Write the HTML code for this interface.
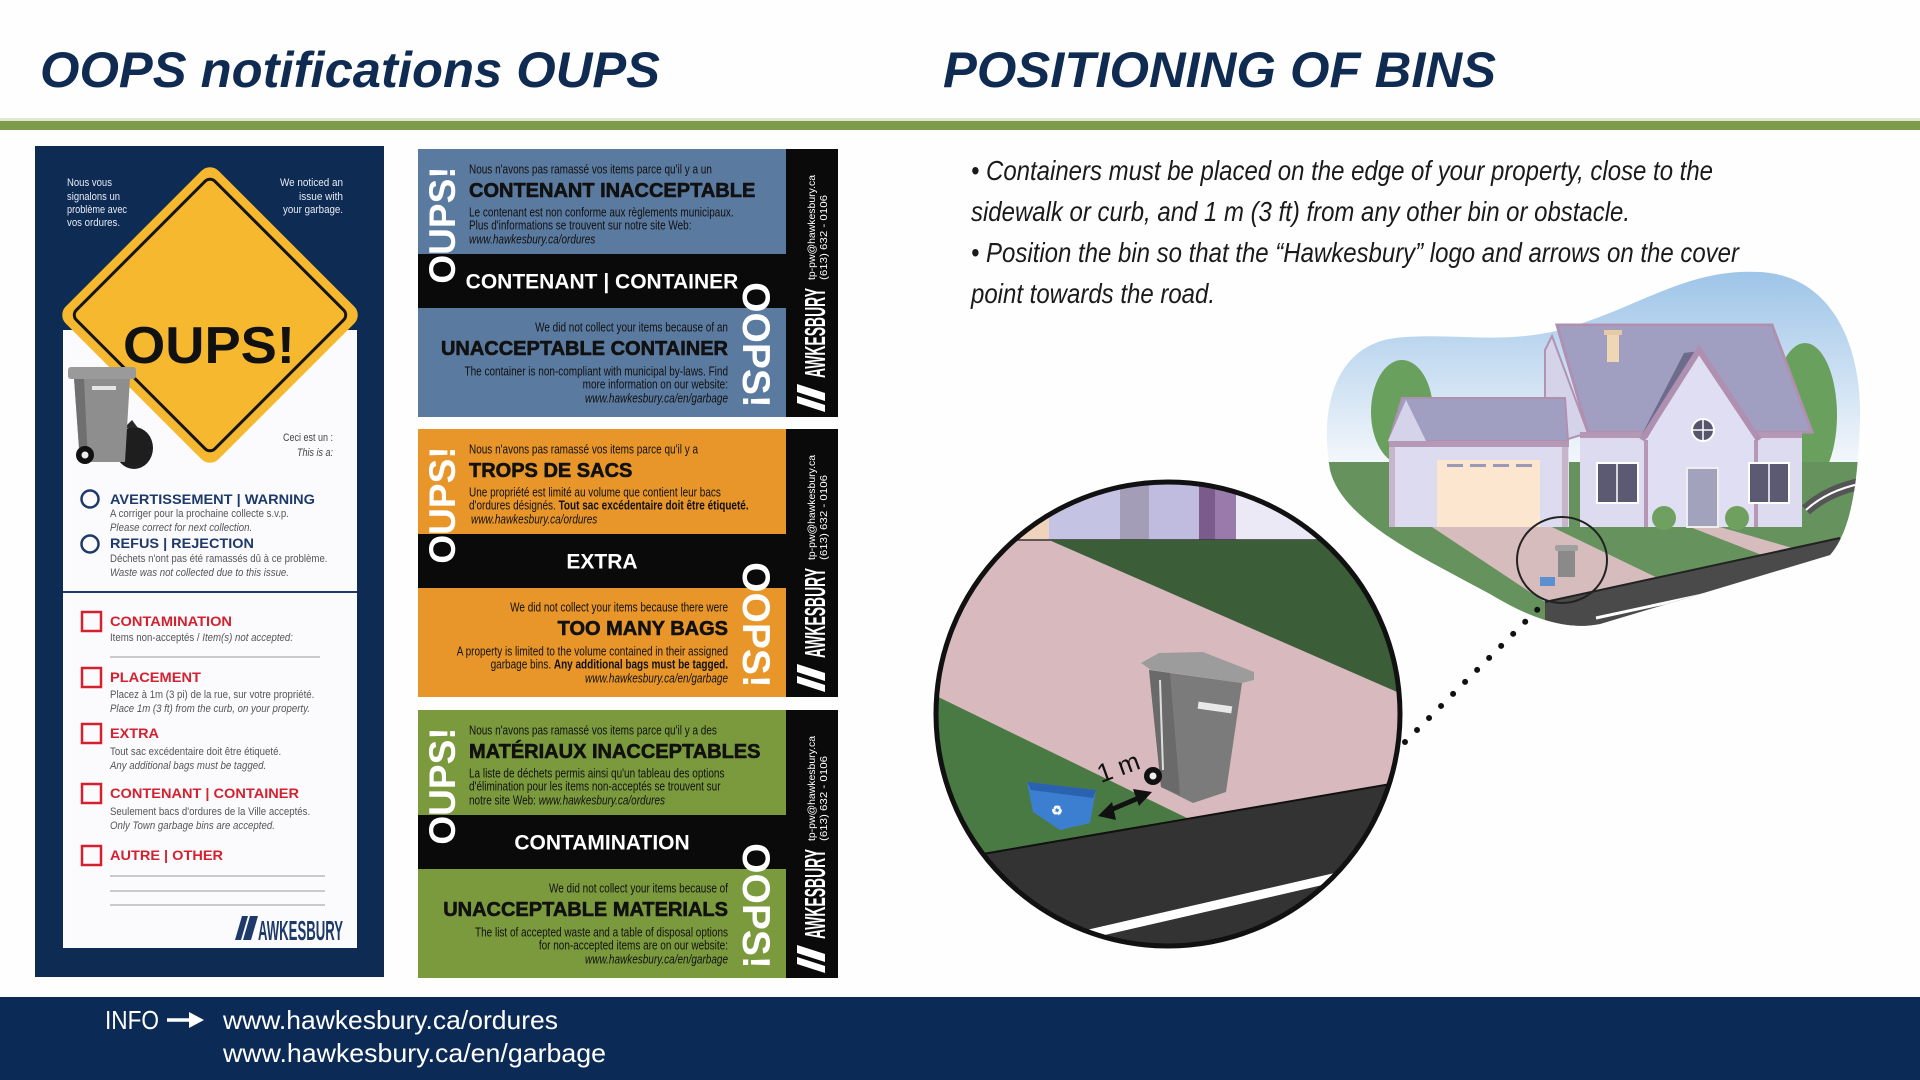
<!DOCTYPE html>
<html><head><meta charset="utf-8"><title>OOPS notifications / Positioning of bins</title>
<style>
html,body{margin:0;padding:0}
body{width:1920px;height:1080px;overflow:hidden;background:#fefefe;position:relative}
svg{position:absolute;left:0;top:0;font-family:"Liberation Sans",Arial,sans-serif}
</style></head><body>
<svg width="1920" height="1080" viewBox="0 0 1920 1080" xmlns="http://www.w3.org/2000/svg">
<defs>
<linearGradient id="sky" gradientUnits="userSpaceOnUse" x1="0" y1="270" x2="0" y2="470">
<stop offset="0" stop-color="#9dc4e8"/><stop offset="1" stop-color="#f6f9fc"/></linearGradient>
<clipPath id="bigc"><circle cx="1168" cy="714" r="232"/></clipPath>
<clipPath id="blobc"><path d="M1330,470 C1318,400 1340,345 1395,338 C1450,332 1500,345 1560,330 C1640,308 1685,268 1760,272 C1835,276 1862,350 1860,420 C1858,480 1852,530 1830,555 L1600,624 C1560,632 1520,612 1490,594 C1420,556 1342,520 1330,470 Z"/></clipPath>
</defs>

<!-- HEADER -->
<text x="40" y="87" font-size="50" font-weight="bold" font-style="italic" fill="#0f2b52" textLength="620" lengthAdjust="spacingAndGlyphs">OOPS notifications OUPS</text>
<text x="943" y="87" font-size="50" font-weight="bold" font-style="italic" fill="#0f2b52" textLength="553" lengthAdjust="spacingAndGlyphs">POSITIONING OF BINS</text>
<rect x="0" y="118" width="1920" height="3" fill="#dfe8cf"/>
<rect x="0" y="121" width="1920" height="9" fill="#7d9b4b"/>

<!-- LEFT CARD -->
<rect x="35" y="146" width="349" height="831" fill="#0d2b53"/>
<rect x="63" y="330" width="294" height="618" fill="#fbfbfd"/>
<g transform="translate(210,315) rotate(45)">
<rect x="-108" y="-108" width="216" height="216" rx="12" fill="#f5b82f"/>
<rect x="-98" y="-98" width="196" height="196" rx="7" fill="none" stroke="#151515" stroke-width="3"/>
</g>
<text x="209" y="363" text-anchor="middle" font-size="52" font-weight="bold" fill="#111" textLength="172" lengthAdjust="spacingAndGlyphs">OUPS!</text>
<g font-size="11" fill="#e8ecf3">
<text x="67" y="186" textLength="45" lengthAdjust="spacingAndGlyphs">Nous vous</text>
<text x="67" y="200" textLength="53" lengthAdjust="spacingAndGlyphs">signalons un</text>
<text x="67" y="213" textLength="60" lengthAdjust="spacingAndGlyphs">problème avec</text>
<text x="67" y="226" textLength="53" lengthAdjust="spacingAndGlyphs">vos ordures.</text>
<text x="343" y="186" text-anchor="end" textLength="63" lengthAdjust="spacingAndGlyphs">We noticed an</text>
<text x="343" y="200" text-anchor="end" textLength="44" lengthAdjust="spacingAndGlyphs">issue with</text>
<text x="343" y="213" text-anchor="end" textLength="60" lengthAdjust="spacingAndGlyphs">your garbage.</text>
</g>
<g font-size="11" fill="#444" text-anchor="end">
<text x="333" y="441" textLength="50" lengthAdjust="spacingAndGlyphs">Ceci est un :</text>
<text x="333" y="456" font-style="italic" textLength="36" lengthAdjust="spacingAndGlyphs">This is a:</text>
</g>
<!-- bin image -->
<g>
<ellipse cx="134" cy="448" rx="19" ry="21" fill="#1e1e1e"/>
<path d="M124,428 l8,-8 l6,8 z" fill="#2a2a2a"/>
<polygon points="74,378 130,378 125,462 80,462" fill="#8e8e8e"/>
<polygon points="74,378 84,378 88,462 80,462" fill="#6f6f6f"/>
<rect x="68" y="367" width="68" height="12" rx="3" fill="#9a9a9a"/>
<rect x="92" y="386" width="24" height="4" fill="#e6e6e6"/>
<circle cx="85" cy="455" r="9" fill="#111"/>
<circle cx="85" cy="455" r="3.5" fill="#eee"/>
</g>
<!-- options -->
<circle cx="90" cy="499" r="8.5" fill="none" stroke="#1d3a6a" stroke-width="2.5"/>
<circle cx="90" cy="544" r="8.5" fill="none" stroke="#1d3a6a" stroke-width="2.5"/>
<g font-size="14" font-weight="bold" fill="#1d3a6a">
<text x="110" y="504" textLength="205" lengthAdjust="spacingAndGlyphs">AVERTISSEMENT | WARNING</text>
<text x="110" y="548" textLength="144" lengthAdjust="spacingAndGlyphs">REFUS | REJECTION</text>
</g>
<g font-size="11.5" fill="#555">
<text transform="translate(110,517) scale(.84,1)">A corriger pour la prochaine collecte s.v.p.</text>
<text transform="translate(110,531) scale(.84,1)" font-style="italic">Please correct for next collection.</text>
<text transform="translate(110,562) scale(.84,1)">Déchets n'ont pas été ramassés dû à ce problème.</text>
<text transform="translate(110,576) scale(.84,1)" font-style="italic">Waste was not collected due to this issue.</text>
<text transform="translate(110,641) scale(.84,1)">Items non-acceptés / <tspan font-style="italic">Item(s) not accepted:</tspan></text>
<text transform="translate(110,698) scale(.84,1)">Placez à 1m (3 pi) de la rue, sur votre propriété.</text>
<text transform="translate(110,712) scale(.84,1)" font-style="italic">Place 1m (3 ft) from the curb, on your property.</text>
<text transform="translate(110,755) scale(.84,1)">Tout sac excédentaire doit être étiqueté.</text>
<text transform="translate(110,769) scale(.84,1)" font-style="italic">Any additional bags must be tagged.</text>
<text transform="translate(110,815) scale(.84,1)">Seulement bacs d'ordures de la Ville acceptés.</text>
<text transform="translate(110,829) scale(.84,1)" font-style="italic">Only Town garbage bins are accepted.</text>
</g>
<line x1="63" y1="592" x2="357" y2="592" stroke="#1d3a6a" stroke-width="2"/>
<g fill="none" stroke="#d4212f" stroke-width="2.5">
<rect x="82" y="612" width="19" height="19"/>
<rect x="82" y="668" width="19" height="19"/>
<rect x="82" y="724" width="19" height="19"/>
<rect x="82" y="784" width="19" height="19"/>
<rect x="82" y="846" width="19" height="19"/>
</g>
<g font-size="14" font-weight="bold" fill="#d4212f">
<text x="110" y="626" textLength="122" lengthAdjust="spacingAndGlyphs">CONTAMINATION</text>
<text x="110" y="682" textLength="91" lengthAdjust="spacingAndGlyphs">PLACEMENT</text>
<text x="110" y="738" textLength="49" lengthAdjust="spacingAndGlyphs">EXTRA</text>
<text x="110" y="798" textLength="189" lengthAdjust="spacingAndGlyphs">CONTENANT | CONTAINER</text>
<text x="110" y="860" textLength="113" lengthAdjust="spacingAndGlyphs">AUTRE | OTHER</text>
</g>
<g stroke="#9a9a9a" stroke-width="1">
<line x1="110" y1="657" x2="320" y2="657"/>
<line x1="110" y1="876" x2="325" y2="876"/>
<line x1="110" y1="891" x2="325" y2="891"/>
<line x1="110" y1="905" x2="325" y2="905"/>
</g>
<g fill="#1d3a6a">
<polygon points="235,940 241,940 248,916 242,916"/>
<polygon points="243,940 251,940 258,916 250,916"/>
<text x="258" y="940" font-size="28" font-weight="bold" textLength="85" lengthAdjust="spacingAndGlyphs">AWKESBURY</text>
</g>

<!-- CARD 1 -->
<g transform="translate(0,149)">
<rect x="418" y="0" width="420" height="268" fill="#0a0a0a"/>
<rect x="418" y="0" width="368" height="105" fill="#5b7a9f"/>
<rect x="418" y="159" width="368" height="109" fill="#5b7a9f"/>
<text transform="translate(455,76) rotate(-90)" text-anchor="middle" font-size="37" font-weight="bold" fill="#fff">OUPS!</text>
<text transform="translate(743,196) rotate(90)" text-anchor="middle" font-size="39" font-weight="bold" fill="#fff">OOPS!</text>
<g fill="#111">
<text transform="translate(469,24.5) scale(.8,1)" font-size="12.5">Nous n'avons pas ramassé vos items parce qu'il y a un</text>
<text x="469" y="48" font-size="20" font-weight="bold" stroke="#111" stroke-width=".6">CONTENANT INACCEPTABLE</text>
<text transform="translate(469,67.5) scale(.8,1)" font-size="12.5">Le contenant est non conforme aux règlements municipaux.</text>
<text transform="translate(469,80.5) scale(.8,1)" font-size="12.5">Plus d'informations se trouvent sur notre site Web:</text>
<text transform="translate(469,94.5) scale(.8,1)" font-size="12.5" font-style="italic">www.hawkesbury.ca/ordures</text>
</g>
<text x="602" y="139.5" text-anchor="middle" font-size="21" font-weight="bold" fill="#fff">CONTENANT | CONTAINER</text>
<g fill="#111" text-anchor="end">
<text transform="translate(728,182.5) scale(.8,1)" font-size="12.5">We did not collect your items because of an</text>
<text x="728" y="206" font-size="20" font-weight="bold" stroke="#111" stroke-width=".6">UNACCEPTABLE CONTAINER</text>
<text transform="translate(728,226.5) scale(.8,1)" font-size="12.5">The container is non-compliant with municipal by-laws. Find</text>
<text transform="translate(728,239.5) scale(.8,1)" font-size="12.5">more information on our website:</text>
<text transform="translate(728,253.5) scale(.8,1)" font-size="12.5" font-style="italic">www.hawkesbury.ca/en/garbage</text>
</g>
<g transform="translate(825,263) rotate(-90)" fill="#fff">
<polygon points="0,0 7,0 16,-28 9,-28"/>
<polygon points="11,0 19,0 28,-28 20,-28"/>
<text x="34" y="0" font-size="29" font-weight="bold" textLength="90" lengthAdjust="spacingAndGlyphs">AWKESBURY</text>
</g>
<text transform="translate(815,131) rotate(-90)" font-size="10.5" fill="#fff" textLength="105" lengthAdjust="spacingAndGlyphs">tp-pw@hawkesbury.ca</text>
<text transform="translate(827,131) rotate(-90)" font-size="10.5" fill="#fff" textLength="85" lengthAdjust="spacingAndGlyphs">(613) 632 - 0106</text>
</g>

<!-- CARD 2 -->
<g transform="translate(0,429)">
<rect x="418" y="0" width="420" height="268" fill="#0a0a0a"/>
<rect x="418" y="0" width="368" height="105" fill="#e8962a"/>
<rect x="418" y="159" width="368" height="109" fill="#e8962a"/>
<text transform="translate(455,76) rotate(-90)" text-anchor="middle" font-size="37" font-weight="bold" fill="#fff">OUPS!</text>
<text transform="translate(743,196) rotate(90)" text-anchor="middle" font-size="39" font-weight="bold" fill="#fff">OOPS!</text>
<g fill="#111">
<text transform="translate(469,24.5) scale(.8,1)" font-size="12.5">Nous n'avons pas ramassé vos items parce qu'il y a</text>
<text x="469" y="48" font-size="20" font-weight="bold" stroke="#111" stroke-width=".6">TROPS DE SACS</text>
<text transform="translate(469,67.5) scale(.8,1)" font-size="12.5">Une propriété est limité au volume que contient leur bacs</text>
<text transform="translate(469,80.5) scale(.8,1)" font-size="12.5">d'ordures désignés. <tspan font-weight="bold">Tout sac excédentaire doit être étiqueté.</tspan></text>
<text transform="translate(471,94.5) scale(.8,1)" font-size="12.5" font-style="italic">www.hawkesbury.ca/ordures</text>
</g>
<text x="602" y="139.5" text-anchor="middle" font-size="21" font-weight="bold" fill="#fff">EXTRA</text>
<g fill="#111" text-anchor="end">
<text transform="translate(728,182.5) scale(.8,1)" font-size="12.5">We did not collect your items because there were</text>
<text x="728" y="206" font-size="20" font-weight="bold" stroke="#111" stroke-width=".6">TOO MANY BAGS</text>
<text transform="translate(728,226.5) scale(.8,1)" font-size="12.5">A property is limited to the volume contained in their assigned</text>
<text transform="translate(728,239.5) scale(.8,1)" font-size="12.5">garbage bins. <tspan font-weight="bold">Any additional bags must be tagged.</tspan></text>
<text transform="translate(728,253.5) scale(.8,1)" font-size="12.5" font-style="italic">www.hawkesbury.ca/en/garbage</text>
</g>
<g transform="translate(825,263) rotate(-90)" fill="#fff">
<polygon points="0,0 7,0 16,-28 9,-28"/>
<polygon points="11,0 19,0 28,-28 20,-28"/>
<text x="34" y="0" font-size="29" font-weight="bold" textLength="90" lengthAdjust="spacingAndGlyphs">AWKESBURY</text>
</g>
<text transform="translate(815,131) rotate(-90)" font-size="10.5" fill="#fff" textLength="105" lengthAdjust="spacingAndGlyphs">tp-pw@hawkesbury.ca</text>
<text transform="translate(827,131) rotate(-90)" font-size="10.5" fill="#fff" textLength="85" lengthAdjust="spacingAndGlyphs">(613) 632 - 0106</text>
</g>

<!-- CARD 3 -->
<g transform="translate(0,710)">
<rect x="418" y="0" width="420" height="268" fill="#0a0a0a"/>
<rect x="418" y="0" width="368" height="105" fill="#7b9a3d"/>
<rect x="418" y="159" width="368" height="109" fill="#7b9a3d"/>
<text transform="translate(455,76) rotate(-90)" text-anchor="middle" font-size="37" font-weight="bold" fill="#fff">OUPS!</text>
<text transform="translate(743,196) rotate(90)" text-anchor="middle" font-size="39" font-weight="bold" fill="#fff">OOPS!</text>
<g fill="#111">
<text transform="translate(469,24.5) scale(.8,1)" font-size="12.5">Nous n'avons pas ramassé vos items parce qu'il y a des</text>
<text x="469" y="48" font-size="20" font-weight="bold" stroke="#111" stroke-width=".6">MATÉRIAUX INACCEPTABLES</text>
<text transform="translate(469,67.5) scale(.8,1)" font-size="12.5">La liste de déchets permis ainsi qu'un tableau des options</text>
<text transform="translate(469,80.5) scale(.8,1)" font-size="12.5">d'élimination pour les items non-acceptés se trouvent sur</text>
<text transform="translate(469,94.5) scale(.8,1)" font-size="12.5">notre site Web:  <tspan font-style="italic">www.hawkesbury.ca/ordures</tspan></text>
</g>
<text x="602" y="139.5" text-anchor="middle" font-size="21" font-weight="bold" fill="#fff">CONTAMINATION</text>
<g fill="#111" text-anchor="end">
<text transform="translate(728,182.5) scale(.8,1)" font-size="12.5">We did not collect your items because of</text>
<text x="728" y="206" font-size="20" font-weight="bold" stroke="#111" stroke-width=".6">UNACCEPTABLE MATERIALS</text>
<text transform="translate(728,226.5) scale(.8,1)" font-size="12.5">The list of accepted waste and a table of disposal options</text>
<text transform="translate(728,239.5) scale(.8,1)" font-size="12.5">for non-accepted items are on our website:</text>
<text transform="translate(728,253.5) scale(.8,1)" font-size="12.5" font-style="italic">www.hawkesbury.ca/en/garbage</text>
</g>
<g transform="translate(825,263) rotate(-90)" fill="#fff">
<polygon points="0,0 7,0 16,-28 9,-28"/>
<polygon points="11,0 19,0 28,-28 20,-28"/>
<text x="34" y="0" font-size="29" font-weight="bold" textLength="90" lengthAdjust="spacingAndGlyphs">AWKESBURY</text>
</g>
<text transform="translate(815,131) rotate(-90)" font-size="10.5" fill="#fff" textLength="105" lengthAdjust="spacingAndGlyphs">tp-pw@hawkesbury.ca</text>
<text transform="translate(827,131) rotate(-90)" font-size="10.5" fill="#fff" textLength="85" lengthAdjust="spacingAndGlyphs">(613) 632 - 0106</text>
</g>

<!-- RIGHT TEXT -->
<g font-size="28" font-style="italic" fill="#1a1a1a">
<text x="971" y="180" textLength="742" lengthAdjust="spacingAndGlyphs">• Containers must be placed on the edge of your property, close to the</text>
<text x="971" y="221" textLength="659" lengthAdjust="spacingAndGlyphs">sidewalk or curb, and 1 m (3 ft) from any other bin or obstacle.</text>
<text x="971" y="262" textLength="768" lengthAdjust="spacingAndGlyphs">• Position the bin so that the “Hawkesbury” logo and arrows on the cover</text>
<text x="971" y="303" textLength="244" lengthAdjust="spacingAndGlyphs">point towards the road.</text>
</g>

<!-- HOUSE SCENE -->
<g clip-path="url(#blobc)">
<rect x="1300" y="260" width="580" height="380" fill="url(#sky)"/>
<ellipse cx="1402" cy="412" rx="31" ry="52" fill="#6aa05e"/>
<ellipse cx="1805" cy="415" rx="32" ry="72" fill="#6aa05e"/>
<rect x="1300" y="462" width="580" height="180" fill="#65925d"/>
<path d="M1806,510 Q1830,488 1870,482" fill="none" stroke="#555" stroke-width="12"/>
<path d="M1806,510 Q1830,488 1870,482" fill="none" stroke="#fff" stroke-width="2"/>
<polygon points="1432,527 1552,527 1666,582 1548,604" fill="#d7bcbd"/>
<polygon points="1690,527 1720,527 1806,552 1772,559" fill="#d7bcbd"/>
<polygon points="1545,602 1840,538 1880,560 1880,660 1545,660" fill="#4a4a4a"/>
<line x1="1545" y1="602" x2="1840" y2="538" stroke="#222" stroke-width="2"/>
<line x1="1596" y1="618" x2="1850" y2="563" stroke="#fff" stroke-width="3"/>
</g>
<!-- house body -->
<polygon points="1552,336 1588,433 1545,446 1545,350" fill="#d4d3ea" stroke="#b292b2" stroke-width="2"/>
<polygon points="1557,325 1772,325 1812,432 1588,432" fill="#a09fc2" stroke="#b090b0" stroke-width="3"/>
<rect x="1607" y="333" width="12" height="29" fill="#efd6b5"/>
<rect x="1604" y="330" width="18" height="5" fill="#e6caa6"/>
<rect x="1580" y="432" width="222" height="95" fill="#dcdbf0"/>
<rect x="1580" y="432" width="222" height="6" fill="#b498b5"/>
<polygon points="1684,353 1700,351 1656,438 1640,438" fill="#6d6c8c"/>
<polygon points="1699,352 1756,440 1756,527 1646,527 1646,440" fill="#dfdef2"/>
<polyline points="1642,440 1699,350 1759,440" fill="none" stroke="#b090b0" stroke-width="6"/>
<line x1="1646" y1="440" x2="1646" y2="527" stroke="#b498b5" stroke-width="4"/>
<line x1="1756" y1="440" x2="1756" y2="527" stroke="#b498b5" stroke-width="4"/>
<circle cx="1703" cy="430" r="11" fill="#55556e" stroke="#fff" stroke-width="2"/>
<line x1="1692" y1="430" x2="1714" y2="430" stroke="#fff" stroke-width="1.5"/>
<line x1="1703" y1="419" x2="1703" y2="441" stroke="#fff" stroke-width="1.5"/>
<rect x="1687" y="468" width="31" height="59" fill="#a3a2bc" stroke="#eee" stroke-width="2"/>
<rect x="1597" y="463" width="41" height="40" fill="#5b5a72" stroke="#fff" stroke-width="2"/>
<line x1="1617" y1="463" x2="1617" y2="503" stroke="#fff" stroke-width="1.5"/>
<rect x="1749" y="463" width="40" height="40" fill="#5b5a72" stroke="#fff" stroke-width="2"/>
<line x1="1769" y1="463" x2="1769" y2="503" stroke="#fff" stroke-width="1.5"/>
<polygon points="1402,398 1565,398 1568,441 1389,441" fill="#a09fc2" stroke="#b090b0" stroke-width="2"/>
<polygon points="1406,400 1426,441 1388,441" fill="#d4d3ea"/>
<rect x="1389" y="441" width="180" height="86" fill="#dcdbef"/>
<rect x="1389" y="441" width="180" height="6" fill="#b498b5"/>
<rect x="1389" y="447" width="6" height="80" fill="#c7b5cc"/>
<rect x="1562" y="447" width="6" height="80" fill="#c7b5cc"/>
<rect x="1437" y="460" width="103" height="67" fill="#fde6cf"/>
<g fill="#9b9ab5"><rect x="1447" y="464" width="16" height="3"/><rect x="1470" y="464" width="16" height="3"/><rect x="1493" y="464" width="16" height="3"/><rect x="1516" y="464" width="16" height="3"/></g>
<circle cx="1664" cy="518" r="12" fill="#6fa060"/>
<circle cx="1737" cy="518" r="12" fill="#6fa060"/>
<!-- small zoom circle -->
<rect x="1558" y="549" width="17" height="28" fill="#8a8a8a"/>
<rect x="1555" y="545" width="23" height="6" rx="2" fill="#a0a0a0"/>
<rect x="1540" y="577" width="15" height="9" fill="#5a8fd0"/>
<ellipse cx="1562" cy="560" rx="45" ry="43" fill="none" stroke="#222" stroke-width="2"/>

<!-- dotted connector -->
<line x1="1405" y1="742" x2="1545" y2="602" stroke="#111" stroke-width="6" stroke-linecap="round" stroke-dasharray="0 17"/>

<!-- BIG CIRCLE -->
<g clip-path="url(#bigc)">
<rect x="930" y="480" width="480" height="470" fill="#d8b9bd"/>
<rect x="930" y="480" width="480" height="60" fill="#ebe9f6"/>
<rect x="1005" y="480" width="44" height="60" fill="#efd3bd"/>
<rect x="1049" y="480" width="71" height="60" fill="#c5c3e3"/>
<rect x="1120" y="480" width="29" height="60" fill="#a39db8"/>
<rect x="1149" y="480" width="50" height="60" fill="#bfbcdf"/>
<rect x="1199" y="480" width="16" height="60" fill="#7b5a8c"/>
<rect x="1215" y="480" width="21" height="60" fill="#9a7aaa"/>
<line x1="930" y1="540" x2="1410" y2="540" stroke="#333" stroke-width="1.5"/>
<polygon points="1049,540 1420,540 1420,702" fill="#3b5e38"/>
<polygon points="930,693 1187,818 930,863" fill="#4a7a43"/>
<polygon points="930,863 1420,779 1420,960 930,960" fill="#333"/>
<line x1="930" y1="863" x2="1420" y2="779" stroke="#111" stroke-width="2"/>
<line x1="1050" y1="943" x2="1420" y2="858" stroke="#fff" stroke-width="9"/>
<!-- recycling box -->
<polygon points="1027,782 1096,790 1090,823 1060,830 1033,812" fill="#3c7fd0"/>
<polygon points="1027,782 1096,790 1093,798 1031,790" fill="#2a62b0"/>
<text x="1057" y="815" font-size="13" font-weight="bold" fill="#fff" text-anchor="middle">♻</text>
<!-- arrow -->
<line x1="1108" y1="811" x2="1141" y2="797" stroke="#111" stroke-width="5"/>
<polygon points="1098,816 1112,802 1116,820" fill="#111"/>
<polygon points="1152,792 1133,789 1139,806" fill="#111"/>
<text transform="translate(1101,783) rotate(-20)" font-size="26" fill="#111">1 m</text>
<!-- wheelie bin -->
<polygon points="1149,670 1242,683 1226,792 1193,803 1161,787" fill="#7b7b7b"/>
<polygon points="1149,670 1170,673 1180,795 1161,787" fill="#6a6a6a"/>
<line x1="1160" y1="680" x2="1163" y2="770" stroke="#ddd" stroke-width="2"/>
<polygon points="1141,663 1159,653 1203,652 1254,672 1254,680 1242,683 1151,670" fill="#9c9c9c"/>
<rect x="1198" y="704" width="34" height="7" fill="#e8e8e8" transform="rotate(8 1215 707)"/>
<circle cx="1153" cy="776" r="9" fill="#111"/>
<circle cx="1153" cy="776" r="3.5" fill="#eee"/>
</g>
<circle cx="1168" cy="714" r="232" fill="none" stroke="#111" stroke-width="5"/>

<!-- FOOTER -->
<rect x="0" y="997" width="1920" height="83" fill="#0b2b56"/>
<text x="105" y="1029" font-size="26" fill="#fff" textLength="54" lengthAdjust="spacingAndGlyphs">INFO</text>
<line x1="167" y1="1020" x2="193" y2="1020" stroke="#fff" stroke-width="3.5"/>
<polygon points="189,1012 204,1020 189,1028" fill="#fff"/>
<text x="223" y="1029" font-size="26" fill="#fff" textLength="335" lengthAdjust="spacingAndGlyphs">www.hawkesbury.ca/ordures</text>
<text x="223" y="1062" font-size="26" fill="#fff" textLength="383" lengthAdjust="spacingAndGlyphs">www.hawkesbury.ca/en/garbage</text>
</svg>
</body></html>
